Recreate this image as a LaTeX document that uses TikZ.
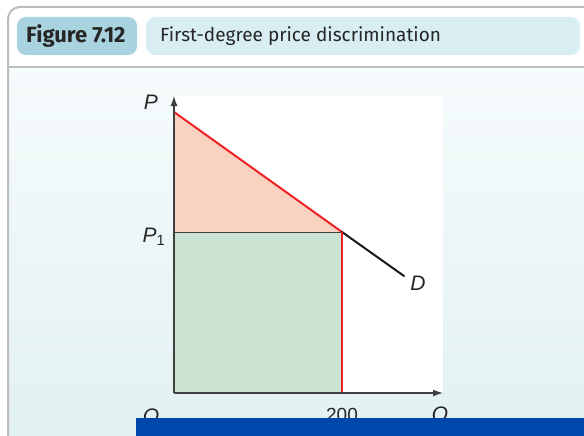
\documentclass[tikz,border=0pt]{standalone}
\usepackage{fontspec}
\setmainfont{Fira Sans}
\newfontfamily\axisfont{Liberation Sans}
\usetikzlibrary{arrows.meta, positioning}

\definecolor{framegray}{HTML}{BDBDBD}
\definecolor{badgedark}{HTML}{A9D3DF}
\definecolor{badgelight}{HTML}{D8EEF3}
\definecolor{bodytop}{HTML}{F6FBFC}
\definecolor{bodybot}{HTML}{E2F1F1}
\definecolor{surplus}{HTML}{FAD3C0}
\definecolor{revenue}{HTML}{CBE3D3}
\definecolor{demandred}{HTML}{EE2127}
\definecolor{barblue}{HTML}{0047AB}

\begin{document}
\begin{tikzpicture}[
    x=1pt, y=-1pt,
    badge/.style={rounded corners=9pt, draw=none},
    headtxt/.style={font=\fontsize{19}{19}\selectfont, text=black!85, anchor=west, inner sep=0pt},
    lbl/.style={font=\axisfont\itshape\fontsize{21}{21}\selectfont, text=black!85, inner sep=0pt},
    num/.style={font=\axisfont\fontsize{19}{19}\selectfont, text=black!85, inner sep=0pt},
    axis/.style={-{Latex[length=10pt,width=7pt]}, line width=1.3pt, draw=black!75},
    dcurve/.style={line width=2pt, line cap=round},
]

\clip (0,0) rectangle (584,436);

% Frame, header and body
\fill[white] (0,0) rectangle (584,436);
\fill[white!97!bodytop] (8,7) rectangle (584,67);
\shade[top color=bodytop, bottom color=bodybot] (9,67) rectangle (584,436);
\draw[framegray, line width=2pt, rounded corners=12pt] (8,440) -- (8,7) -- (600,7);
\draw[framegray, line width=2pt] (8,67) -- (584,67);

% Header badges
\fill[badge, badgedark] (17,17) rectangle (137,55);
\fill[badge, badgelight] (146,17) rectangle (580,55);
\node[headtxt, font=\bfseries\fontsize{22}{22}\selectfont] (fignum) at (26,36.5) {Figure 7.12};
\node[headtxt] (figtitle) at (160,36.5) {First-degree price discrimination};

% Plot area
\fill[white] (175,96) rectangle (443,393);

\coordinate (o)    at (174,393);
\coordinate (ptop) at (174,96);
\coordinate (qend) at (443,393);
\coordinate (dtop) at (174,112);
\coordinate (kink) at (342,232);
\coordinate (dend) at (404,276);
\coordinate (p1)   at (174,232);
\coordinate (q1)   at (342,393);

% Consumer surplus captured and revenue at P1
\fill[surplus] (dtop) -- (kink) -- (p1) -- cycle;
\fill[revenue] (p1) rectangle (q1);
\draw[black!75, line width=1pt] (p1) -- (kink);

% Demand curve
\draw[dcurve, demandred] (dtop) -- (kink);
\draw[dcurve, black!90] (kink) -- (dend);
\draw[demandred, line width=2pt] (kink) -- (q1);

% Axes
\draw[axis] (o) -- (ptop);
\draw[axis] (o) -- (qend);

% Labels
\node[lbl] (plab)  at (151,102) {P};
\node[lbl] (p1lab) at (154,237) {P\textsubscript{\upshape 1}};
\node[lbl] (dlab)  at (418,283) {D};
\node[lbl] (olab)  at (151,416) {O};
\node[num] (qlab1) at (342,415) {200};
\node[lbl] (qlab)  at (440,416) {Q};

% Bottom bar
\fill[barblue] (136,418) rectangle (584,436);

\end{tikzpicture}
\end{document}
